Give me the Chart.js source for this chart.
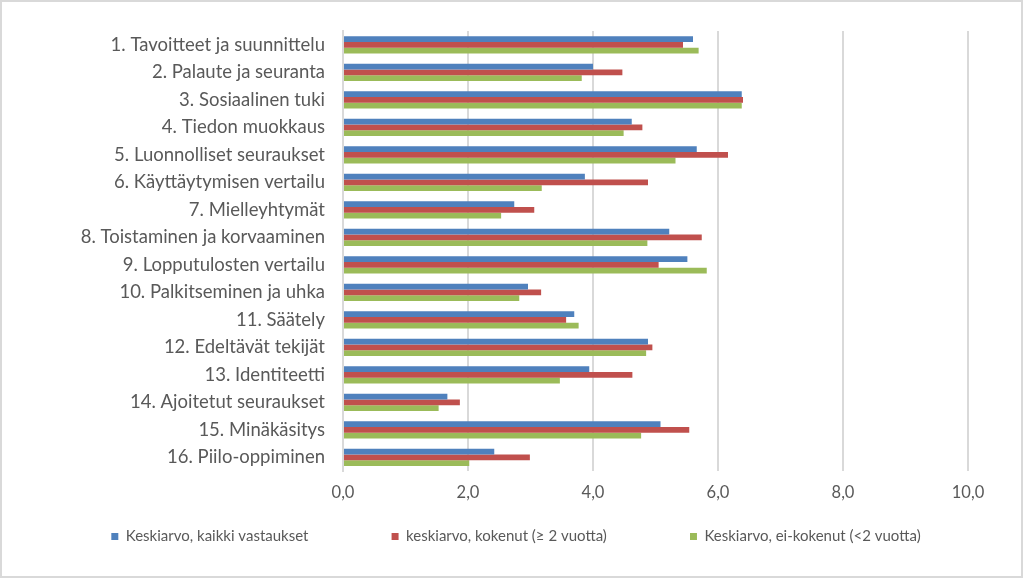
<!DOCTYPE html>
<html>
<head>
<meta charset="utf-8">
<script src="https://cdn.jsdelivr.net/npm/chart.js@4"></script>
<style>
  html, body { margin:0; padding:0; background:#fff; }
  #wrap { width:1023px; height:578px; box-sizing:border-box; border:2px solid #d9d9d9; position:relative; }
</style>
</head>
<body>
<div id="wrap"><canvas id="chart"></canvas></div>
<script>
// Kategoriat ja sarjat
const categories = [
  "1. Tavoitteet ja suunnittelu",
  "2. Palaute ja seuranta",
  "3. Sosiaalinen tuki",
  "4. Tiedon muokkaus",
  "5. Luonnolliset seuraukset",
  "6. Käyttäytymisen vertailu",
  "7. Mielleyhtymät",
  "8. Toistaminen ja korvaaminen",
  "9. Lopputulosten vertailu",
  "10. Palkitseminen ja uhka",
  "11. Säätely",
  "12. Edeltävät tekijät",
  "13. Identiteetti",
  "14. Ajoitetut seuraukset",
  "15. Minäkäsitys",
  "16. Piilo-oppiminen"
];
const seriesNames = [
  "Keskiarvo, kaikki vastaukset",
  "keskiarvo, kokenut (≥ 2 vuotta)",
  "Keskiarvo, ei-kokenut (<2 vuotta)"
];
const allAnswers  = [5.60, 4.00, 6.38, 4.62, 5.66, 3.87, 2.74, 5.22, 5.51, 2.96, 3.70, 4.88, 3.94, 1.67, 5.08, 2.42];
const experienced = [5.44, 4.47, 6.40, 4.79, 6.16, 4.88, 3.06, 5.74, 5.05, 3.17, 3.57, 4.95, 4.63, 1.87, 5.54, 2.99];
const novices     = [5.69, 3.82, 6.38, 4.49, 5.32, 3.18, 2.53, 4.87, 5.82, 2.82, 3.77, 4.85, 3.47, 1.53, 4.77, 2.02];
const xTicks = [0, 2, 4, 6, 8, 10];

const colors = ["#4F81BD", "#C0504D", "#9BBB59"];
const font = "Lato";
const legendGap = " ".repeat(18);

const ctx = document.getElementById("chart").getContext("2d");
new Chart(ctx, {
  type: "bar",
  data: {
    labels: categories,
    datasets: [allAnswers, experienced, novices].map((d, i) => ({
      label: seriesNames[i],
      data: d,
      backgroundColor: colors[i],
      categoryPercentage: 0.63,
      barPercentage: 1.0
    }))
  },
  options: {
    indexAxis: "y",
    responsive: true,
    maintainAspectRatio: false,
    animation: false,
    layout: { padding: { top: 28, right: 0, bottom: 22, left: 9 } },
    plugins: {
      tooltip: { enabled: false },
      legend: {
        position: "bottom",
        labels: {
          boxWidth: 7, boxHeight: 7, padding: 14,
          color: "#595959",
          font: { family: font, size: 15 },
          // leveämpi väli selitteiden välillä
          generateLabels: chart => Chart.defaults.plugins.legend.labels.generateLabels(chart)
            .map((l, i, arr) => ({ ...l, text: i < arr.length - 1 ? l.text + legendGap : l.text }))
        }
      }
    },
    scales: {
      x: {
        min: 0, max: 10,
        afterBuildTicks: s => { s.ticks = xTicks.map(v => ({ value: v })); },
        ticks: {
          color: "#595959", padding: 12,
          font: { family: font, size: 16.5 },
          callback: v => v.toFixed(1).replace(".", ",")
        },
        grid: { color: "#d9d9d9", lineWidth: 2, drawTicks: false },
        border: { display: false }
      },
      y: {
        afterFit: s => { s.width = 332; },
        ticks: {
          color: "#595959", padding: 18,
          font: { family: font, size: 18.5 }
        },
        grid: { display: false, drawTicks: false },
        border: { color: "#d9d9d9", width: 2 }
      },
      // tyhjä tila oikealla
      yRight: {
        type: "linear",
        position: "right",
        afterFit: s => { s.width = 53; },
        ticks: { display: false },
        grid: { display: false, drawTicks: false },
        border: { display: false }
      }
    }
  }
});
</script>
</body>
</html>
